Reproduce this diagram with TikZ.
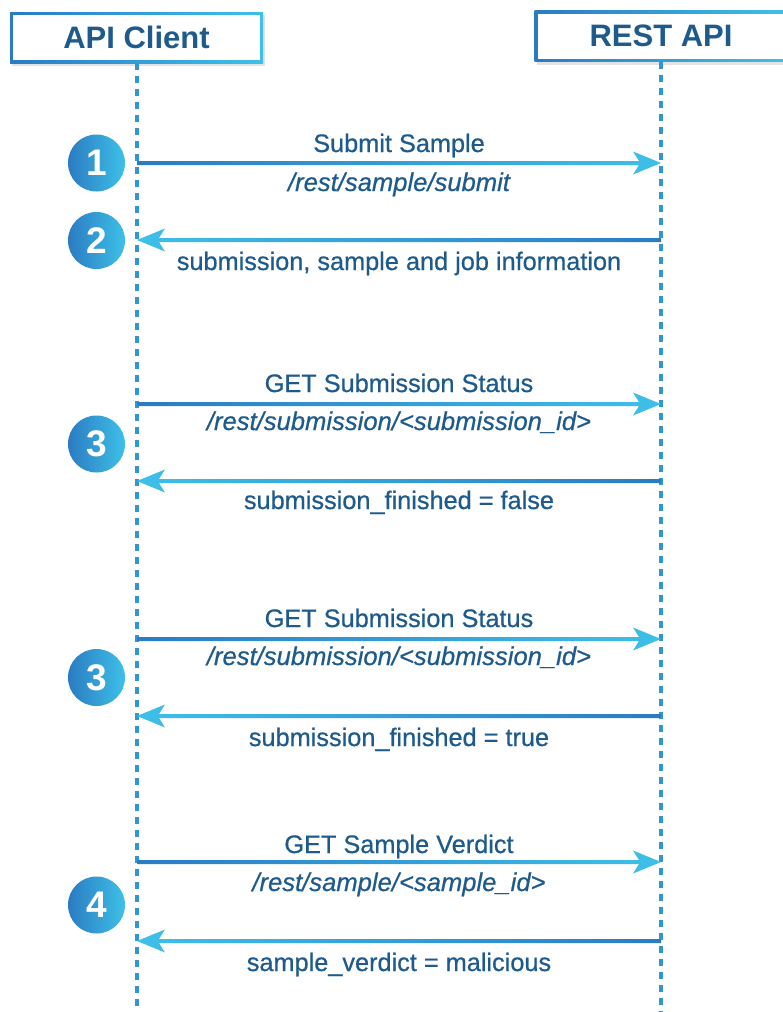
\documentclass[tikz,border=0pt]{standalone}
\usepackage{fontspec}
\setmainfont{Liberation Sans}[
  UprightFeatures={FakeBold=0.6},
  ItalicFeatures={FakeBold=0.6},
  BoldFeatures={FakeBold=0}]
\usetikzlibrary{calc,shadows}

\definecolor{dk}{HTML}{2B7BC2}
\definecolor{lt}{HTML}{3EC0E8}
\definecolor{ink}{HTML}{1E5B8C}
\definecolor{dotblue}{HTML}{3096D4}

\tikzset{
  headbox/.style={minimum width=253pt, minimum height=51pt, inner sep=0pt,
    text=ink, font=\fontsize{31}{31}\selectfont\bfseries,
    drop shadow={shadow xshift=2pt, shadow yshift=-3pt, opacity=0.22},
    path picture={
      \shade[left color=dk, right color=lt]
        (path picture bounding box.south west) rectangle (path picture bounding box.north east);
      \fill[white]
        ([shift={(3pt,3pt)}]path picture bounding box.south west) rectangle
        ([shift={(-3pt,-3pt)}]path picture bounding box.north east);
    }},
  lifeline/.style={draw=dotblue, line width=4pt, dash pattern=on 7pt off 6pt},
  stepmark/.style={circle, minimum size=57pt, inner sep=0pt,
    left color=dk, right color=lt, text=white,
    font=\fontsize{37}{37}\selectfont\bfseries},
  msglabel/.style={text=ink, anchor=base, inner sep=0pt,
    font=\fontsize{25.3}{25.3}\selectfont},
  pathlabel/.style={msglabel, font=\fontsize{25.6}{25.6}\selectfont\itshape},
}

% message arrow from tail #1 to head #2, pointing right
\newcommand\sendright[2]{%
  \shade[left color=dk, right color=lt]
    ($(#1)+(0,-2)$) -- ($(#2)+(-22,-2)$) -- ($(#2)+(-28,-11.5)$) -- (#2)
    -- ($(#2)+(-28,11.5)$) -- ($(#2)+(-22,2)$) -- ($(#1)+(0,2)$) -- cycle;}
% message arrow from tail #1 to head #2, pointing left
\newcommand\sendleft[2]{%
  \shade[left color=lt, right color=dk]
    ($(#1)+(0,-2)$) -- ($(#2)+(22,-2)$) -- ($(#2)+(28,-11.5)$) -- (#2)
    -- ($(#2)+(28,11.5)$) -- ($(#2)+(22,2)$) -- ($(#1)+(0,2)$) -- cycle;}

\begin{document}
\begin{tikzpicture}[x=1pt, y=-1pt]
  \useasboundingbox (0,0) rectangle (782,1012);
  \fill[white] (0,0) rectangle (782,1012);

  % participants
  \node[headbox] (client) at (136.5,37.5) {API Client};
  \node[headbox] (server) at (661,36) {REST API};
  \coordinate (clientEnd) at (136.5,1012);
  \coordinate (serverEnd) at (661,1012);
  \draw[lifeline] (client.south) -- (clientEnd);
  \draw[lifeline] (server.south) -- (serverEnd);

  % anchor points on the lifelines
  \foreach \i/\y in {1/163,2/240,3/404,4/481,5/639,6/716,7/862,8/941} {
    \coordinate (c\i) at (137,\y);
    \coordinate (s\i) at (661,\y);
  }

  % step markers
  \node[stepmark] (n1) at (96.5,163) {1};
  \node[stepmark] (n2) at (96.5,240.5) {2};
  \node[stepmark] (n3) at (96.5,444) {3};
  \node[stepmark] (n4) at (96.5,677.5) {3};
  \node[stepmark] (n5) at (96.5,905) {4};

  % 1: submit
  \sendright{c1}{s1}
  \node[msglabel]  (t1a) at (399,152) {Submit Sample};
  \node[pathlabel] (t1b) at (399,191) {/rest/sample/submit};
  % 2: response
  \sendleft{s2}{c2}
  \node[msglabel]  (t2) at (399,270) {submission, sample and job information};

  % 3: status poll (not finished)
  \sendright{c3}{s3}
  \node[msglabel]  (t3a) at (399,392) {GET Submission Status};
  \node[pathlabel] (t3b) at (399,430) {/rest/submission/<submission\_id>};
  \sendleft{s4}{c4}
  \node[msglabel]  (t4) at (399,509) {submission\_finished = false};

  % 3: status poll (finished)
  \sendright{c5}{s5}
  \node[msglabel]  (t5a) at (399,627) {GET Submission Status};
  \node[pathlabel] (t5b) at (399,665) {/rest/submission/<submission\_id>};
  \sendleft{s6}{c6}
  \node[msglabel]  (t6) at (399,746) {submission\_finished = true};

  % 4: verdict
  \sendright{c7}{s7}
  \node[msglabel]  (t7a) at (399,853) {GET Sample Verdict};
  \node[pathlabel] (t7b) at (399,891) {/rest/sample/<sample\_id>};
  \sendleft{s8}{c8}
  \node[msglabel]  (t8) at (399,971) {sample\_verdict = malicious};
\end{tikzpicture}
\end{document}
